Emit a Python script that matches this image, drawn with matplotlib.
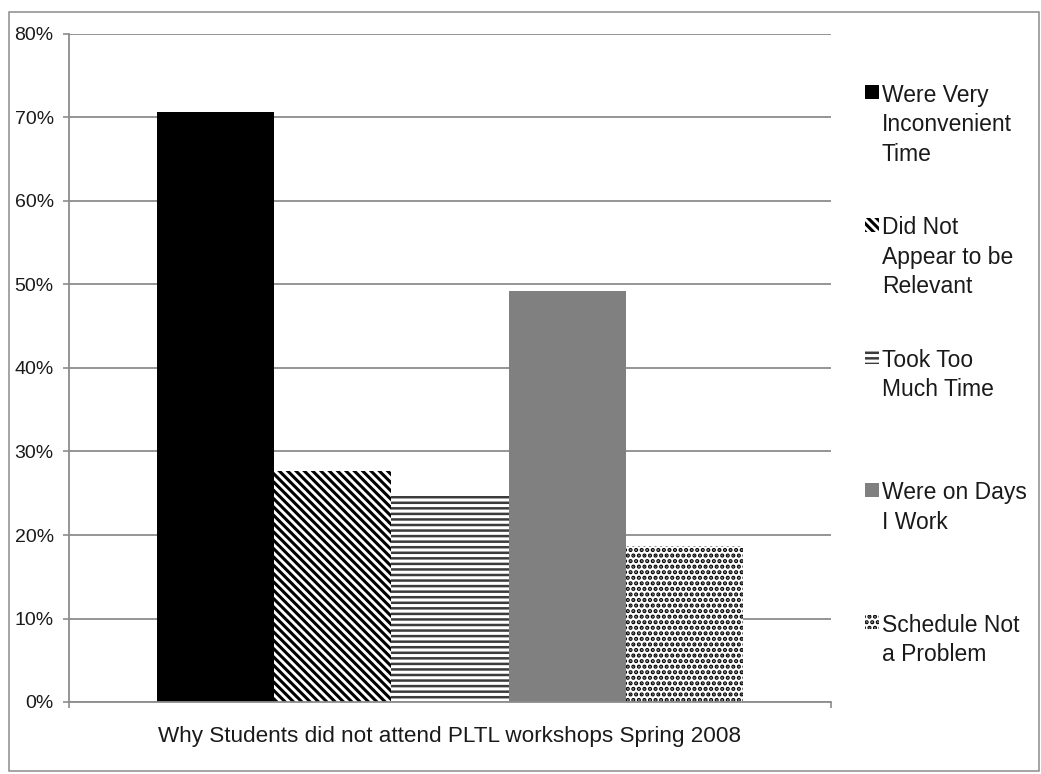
import matplotlib
matplotlib.use("Agg")
import matplotlib.pyplot as plt
from matplotlib.patches import Rectangle

plt.rcParams['font.family'] = ['Liberation Sans', 'DejaVu Sans']
plt.rcParams['hatch.linewidth'] = 2.0

# ---- data ----
category = "Why Students did not attend PLTL workshops Spring 2008"
series_labels = [
    "Were Very\nInconvenient\nTime",
    "Did Not\nAppear to be\nRelevant",
    "Took Too\nMuch Time",
    "Were on Days\nI Work",
    "Schedule Not\na Problem",
]
series_values = [70.6, 27.7, 24.7, 49.2, 18.7]
y_ticks = [0, 10, 20, 30, 40, 50, 60, 70, 80]
y_tick_labels = [f"{v}%" for v in y_ticks]

# ---- per-series fill styles (face, hatch colour, hatch, hatch width) ----
styles = [
    dict(face="black", edge="black", hatch=None, hlw=1.0),
    dict(face="white", edge="black", hatch="\\\\\\\\", hlw=2.2),
    dict(face="white", edge="#3c3c3c", hatch="---", hlw=1.8),
    dict(face="#808080", edge="#808080", hatch=None, hlw=1.0),
    dict(face="white", edge="black", hatch="...", hlw=2.1),
]

W, H = 1041, 774
fig = plt.figure(figsize=(W / 100, H / 100), dpi=100)
fig.patch.set_facecolor("white")

# chart-area border
fig.add_artist(Rectangle((9 / W, 3 / H), (1039 - 9) / W, (771 - 12) / H,
                         transform=fig.transFigure, facecolor="none",
                         edgecolor="#8c8c8c", linewidth=1.1))

ax = fig.add_axes([69 / W, 1 - 702 / H, (831 - 69) / W, (702 - 34) / H])

grid_col = "#8c8c8c"
text_col = "#1a1a1a"

# bars: one category spanning 0..1 with Excel-like 150% gap
n = len(series_values)
bw = 1.0 / (n + 1.5)
x0 = 0.75 * bw
for i, (val, st) in enumerate(zip(series_values, styles)):
    bars = ax.bar(x0 + i * bw, val, width=bw, align="edge",
                  facecolor=st["face"], edgecolor=st["edge"],
                  hatch=st["hatch"], linewidth=0, zorder=3)
    for b in bars:
        if hasattr(b, "set_hatch_linewidth"):
            b.set_hatch_linewidth(st["hlw"])

ax.set_xlim(0, 1)
ax.set_ylim(0, 80)
ax.set_yticks(y_ticks)
ax.set_yticklabels(y_tick_labels)
ax.set_xticks([0, 1])
ax.set_xticklabels(["", ""])
ax.set_xlabel(category, fontsize=16.2, color=text_col, labelpad=10)

ax.yaxis.grid(True, color=grid_col, linewidth=1.3)
ax.set_axisbelow(True)
for s in ("top", "right"):
    ax.spines[s].set_visible(False)
for s in ("left", "bottom"):
    ax.spines[s].set_color(grid_col)
    ax.spines[s].set_linewidth(1.3)
    ax.spines[s].set_zorder(4)
ax.tick_params(axis="y", length=4, width=1.2, color=grid_col, pad=7,
               labelsize=14, labelcolor=text_col)
ax.tick_params(axis="x", length=4, width=1.2, color=grid_col)

# legend: swatch + wrapped label, evenly stacked on the right
leg_first_center = 92.0
leg_step = 132.5
sw = 14
for i, (lab, st) in enumerate(zip(series_labels, styles)):
    yc = leg_first_center + i * leg_step
    r = Rectangle((865 / W, 1 - (yc + sw / 2) / H), sw / W, sw / H,
                  transform=fig.transFigure, facecolor=st["face"],
                  edgecolor=st["edge"], hatch=st["hatch"], linewidth=0)
    if hasattr(r, "set_hatch_linewidth"):
        r.set_hatch_linewidth(st["hlw"])
    fig.add_artist(r)
    fig.text(882 / W, 1 - (yc - 8.0) / H, lab, fontsize=16.5,
             color=text_col, va="top", ha="left", linespacing=1.36)

fig.savefig("out.png", dpi=100, facecolor="white")
